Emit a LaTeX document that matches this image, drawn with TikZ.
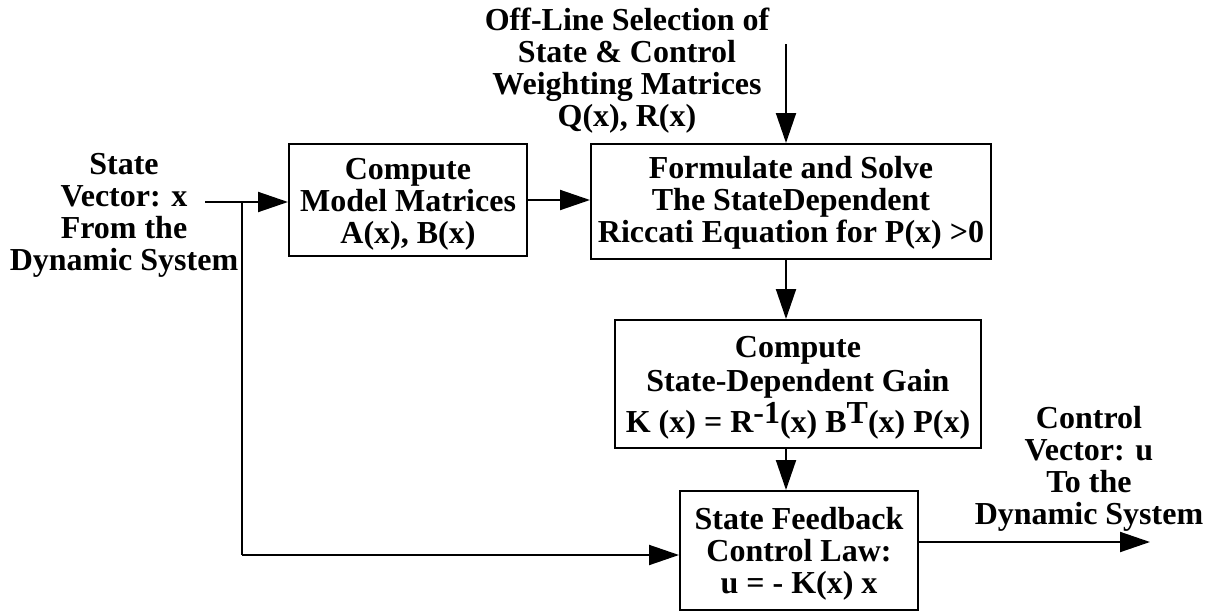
\documentclass[tikz,border=0pt]{standalone}
\usepackage{fontspec}
\setmainfont{Liberation Serif}
\usetikzlibrary{arrows.meta}
\begin{document}
\begin{tikzpicture}[x=1pt,y=-1pt,
  lbl/.style={align=center, font=\fontsize{32}{32}\selectfont\bfseries, inner sep=0pt},
  blk/.style={lbl, draw, line width=2pt},
  arr/.style={line width=2pt, -{Triangle[length=30pt,width=20pt]}}]
\useasboundingbox (0,0) rectangle (1215,613);

% labels
\node[lbl] (sel) at (627,71) {Off-Line Selection of\\State \& Control\\Weighting Matrices\\Q(x), R(x)};
\node[lbl] (in) at (124,215) {State\\Vector: x\\From the\\Dynamic System};
\node[lbl] (out) at (1089,469) {Control\\Vector: u\\To the\\Dynamic System};

% boxes
\node[blk, minimum width=238pt, minimum height=112pt] (mod) at (408,200) {\rule{0pt}{29pt}Compute\\Model Matrices\\A(x), B(x)};
\node[blk, minimum width=400pt, minimum height=115pt] (ric) at (791,201.5) {\rule{0pt}{25pt}Formulate and Solve\\The StateDependent\\Riccati Equation for P(x) >0};
\node[blk, minimum width=366pt, minimum height=128pt] (gain) at (798,384) {\rule{0pt}{28pt}Compute\\[2pt]State-Dependent Gain\\[3pt]K (x) = R\raisebox{9pt}{-1}(x) B\raisebox{9pt}{T}(x) P(x)};
\node[blk, minimum width=238pt, minimum height=119pt] (fb) at (799,550.5) {\rule{0pt}{28pt}State Feedback\\Control Law:\\u = - K(x) x};

% coordinates
\coordinate (topS) at (786,44);
\coordinate (inS) at (205,202);
\coordinate (br) at (242,202);
\coordinate (fbin) at (242,555);
\coordinate (outS) at (918,542);
\coordinate (outE) at (1150,542);

% connectors
\draw[arr] (topS) -- (topS |- ric.north);
\draw[arr] (inS) -- (inS -| mod.west);
\draw[line width=2pt] (br) -- (fbin);
\draw[arr] (fbin) -- (fbin -| fb.west);
\draw[arr] (mod.east) -- (mod.east -| ric.west);
\draw[arr] (ric.south -| topS) -- (gain.north -| topS);
\draw[arr] (gain.south -| topS) -- (fb.north -| topS);
\draw[arr] (outS) -- (outE);
\end{tikzpicture}
\end{document}
